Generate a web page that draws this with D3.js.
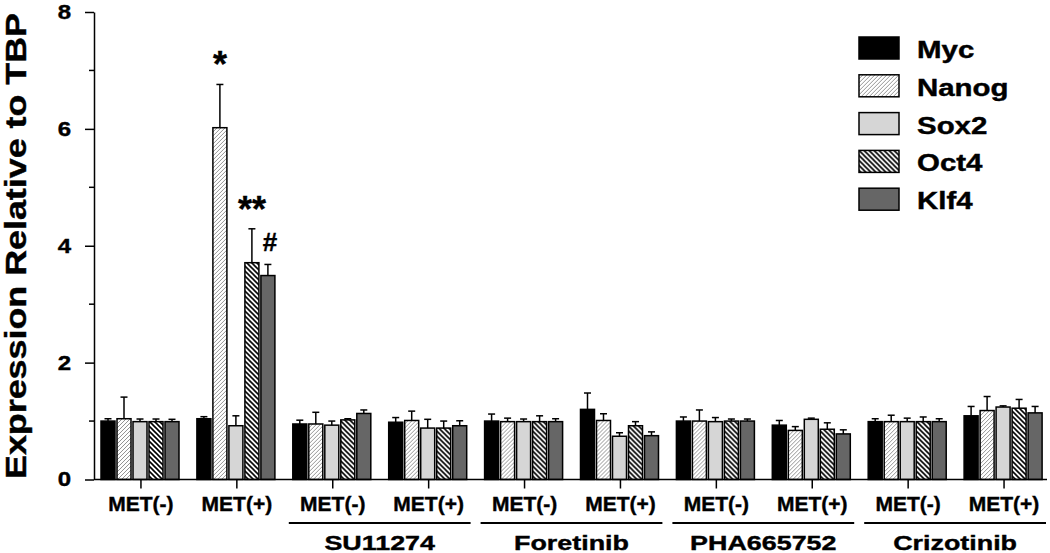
<!DOCTYPE html>
<html>
<head>
<meta charset="utf-8">
<script src="https://cdn.jsdelivr.net/npm/d3@7"></script>
<style>
  body { margin: 0; background: #fff; }
  text { font-family: "Liberation Sans", Arial, sans-serif; font-weight: bold; stroke: #000; stroke-width: 0.4px; }
</style>
</head>
<body>
<div id="chart"></div>
<script>
// values
var categories = ["MET(-)", "MET(+)", "MET(-)", "MET(+)", "MET(-)", "MET(+)", "MET(-)", "MET(+)", "MET(-)", "MET(+)"];
var series = ["Myc", "Nanog", "Sox2", "Oct4", "Klf4"];

var myc   = [1.00, 1.04, 0.95, 0.98, 1.00, 1.20, 1.00, 0.93, 0.99, 1.09];
var nanog = [1.04, 6.02, 0.95, 1.01, 0.99, 1.01, 1.00, 0.84, 0.99, 1.18];
var sox2  = [0.99, 0.92, 0.93, 0.88, 0.99, 0.74, 0.99, 1.03, 0.99, 1.24];
var oct4  = [0.99, 3.71, 1.02, 0.88, 0.99, 0.92, 1.00, 0.86, 0.99, 1.22];
var klf4  = [0.99, 3.49, 1.13, 0.92, 0.99, 0.75, 1.00, 0.78, 0.99, 1.14];

var mycErr   = [0.04, 0.035, 0.065, 0.08, 0.12, 0.28, 0.07, 0.08, 0.05, 0.16];
var nanogErr = [0.37, 0.74, 0.20, 0.16, 0.06, 0.115, 0.19, 0.065, 0.11, 0.24];
var sox2Err  = [0.045, 0.17, 0.07, 0.15, 0.045, 0.06, 0.07, 0.02, 0.06, 0.02];
var oct4Err  = [0.045, 0.58, 0.02, 0.12, 0.10, 0.07, 0.035, 0.11, 0.08, 0.15];
var klf4Err  = [0.04, 0.19, 0.06, 0.085, 0.05, 0.065, 0.035, 0.07, 0.05, 0.11];

var drugs = ["SU11274", "Foretinib", "PHA665752", "Crizotinib"];
var drugFirstGroup = [2, 4, 6, 8];

var marks = [
    { group: 1, series: "Nanog", label: "*" },
    { group: 1, series: "Oct4", label: "**" },
    { group: 1, series: "Klf4", label: "#" }
];

var yTicks = [0, 2, 4, 6, 8];
var yMinor = [1, 3, 5, 7];

var values = { Myc: myc, Nanog: nanog, Sox2: sox2, Oct4: oct4, Klf4: klf4 };
var errors = { Myc: mycErr, Nanog: nanogErr, Sox2: sox2Err, Oct4: oct4Err, Klf4: klf4Err };
var fills = { Myc: "#000", Nanog: "url(#hatchNanog)", Sox2: "#d6d6d6", Oct4: "url(#hatchOct4)", Klf4: "#666" };

var width = 1050, height = 553;

var svg = d3.select("#chart").append("svg")
    .attr("width", width)
    .attr("height", height);

var defs = svg.append("defs");
var pNan = defs.append("pattern")
    .attr("id", "hatchNanog")
    .attr("patternUnits", "userSpaceOnUse")
    .attr("width", 4).attr("height", 4);
pNan.append("rect").attr("width", 4).attr("height", 4).attr("fill", "#fff");
pNan.append("path")
    .attr("d", "M-1,1 l2,-2 M0,4 l4,-4 M3,5 l2,-2")
    .attr("stroke", "#888")
    .attr("stroke-width", 0.9);
var pOct = defs.append("pattern")
    .attr("id", "hatchOct4")
    .attr("patternUnits", "userSpaceOnUse")
    .attr("width", 5).attr("height", 5);
pOct.append("rect").attr("width", 5).attr("height", 5).attr("fill", "#fff");
pOct.append("path")
    .attr("d", "M-1,4 l2,2 M0,0 l5,5 M4,-1 l2,2")
    .attr("stroke", "#000")
    .attr("stroke-width", 1.6);

var axisX = 94, axisRight = 1047;

var x0 = d3.scaleBand()
    .domain(d3.range(categories.length))
    .range([93, 1052]);
var x1 = d3.scaleBand()
    .domain(series)
    .range([8, 86])
    .paddingInner(0.125);
var yScale = d3.scaleLinear()
    .domain([0, 8])
    .range([479.5, 12]);

// bars
var groupG = svg.append("g").selectAll("g")
    .data(d3.range(categories.length))
    .join("g")
    .attr("transform", function (g) { return "translate(" + x0(g) + ",0)"; });

function rows(g) {
    return series.map(function (s) { return { g: g, s: s, v: values[s][g], e: errors[s][g] }; });
}

groupG.selectAll("rect")
    .data(rows)
    .join("rect")
    .attr("x", function (d) { return x1(d.s); })
    .attr("y", function (d) { return yScale(d.v); })
    .attr("width", x1.bandwidth())
    .attr("height", function (d) { return yScale(0) - yScale(d.v); })
    .attr("fill", function (d) { return fills[d.s]; })
    .attr("stroke", "#000")
    .attr("stroke-width", 1.5);

// error bars, upper only
var errG = groupG.selectAll("g.err")
    .data(rows)
    .join("g")
    .attr("class", "err");
errG.append("line")
    .attr("x1", function (d) { return x1(d.s) + x1.bandwidth() / 2; })
    .attr("x2", function (d) { return x1(d.s) + x1.bandwidth() / 2; })
    .attr("y1", function (d) { return yScale(d.v); })
    .attr("y2", function (d) { return yScale(d.v + d.e); })
    .attr("stroke", "#000").attr("stroke-width", 1.5);
errG.append("line")
    .attr("x1", function (d) { return x1(d.s) + x1.bandwidth() / 2 - 3.5; })
    .attr("x2", function (d) { return x1(d.s) + x1.bandwidth() / 2 + 3.5; })
    .attr("y1", function (d) { return yScale(d.v + d.e); })
    .attr("y2", function (d) { return yScale(d.v + d.e); })
    .attr("stroke", "#000").attr("stroke-width", 1.5);

// significance marks
svg.append("g").selectAll("text")
    .data(marks)
    .join("text")
    .attr("x", function (d) { return x0(d.group) + x1(d.series) + x1.bandwidth() / 2 + (d.label === "#" ? 2 : 0); })
    .attr("y", function (d) {
        var top = yScale(values[d.series][d.group] + errors[d.series][d.group]);
        return d.label === "#" ? top - 13 : top - 7;
    })
    .attr("text-anchor", "middle")
    .style("font-size", function (d) { return d.label === "#" ? "26px" : "36px"; })
    .text(function (d) { return d.label; });

// y axis
var yAxis = svg.append("g")
    .attr("transform", "translate(" + axisX + ",0)")
    .call(d3.axisLeft(yScale).tickValues(yTicks).tickSize(9).tickSizeOuter(0).tickFormat(d3.format("d")));
yAxis.select(".domain").attr("stroke-width", 1.5);
yAxis.selectAll(".tick line").attr("stroke-width", 1.5);
yAxis.selectAll(".tick text")
    .attr("x", 0)
    .attr("transform", "translate(-23,0) scale(1.2,1)")
    .style("font-size", "20px")
    .attr("fill", "#000");
svg.append("g")
    .attr("transform", "translate(" + axisX + ",0)")
    .selectAll("line")
    .data(yMinor)
    .join("line")
    .attr("x1", -5).attr("x2", 0)
    .attr("y1", function (d) { return yScale(d); })
    .attr("y2", function (d) { return yScale(d); })
    .attr("stroke", "#000").attr("stroke-width", 1.5);

svg.append("text")
    .attr("transform", "translate(26,246) rotate(-90)")
    .attr("text-anchor", "middle")
    .attr("textLength", 466)
    .attr("lengthAdjust", "spacingAndGlyphs")
    .style("font-size", "29px")
    .text("Expression Relative to TBP");

// x axis
var xAxis = svg.append("g")
    .attr("transform", "translate(0," + yScale(0) + ")")
    .call(d3.axisBottom(x0).tickSize(9).tickFormat(function (i) { return categories[i]; }));
xAxis.select(".domain").remove();
xAxis.selectAll(".tick line").attr("stroke-width", 1.5);
xAxis.selectAll(".tick text")
    .attr("y", 31).attr("dy", 0)
    .style("font-size", "21px")
    .attr("fill", "#000");
svg.append("line")
    .attr("x1", axisX).attr("x2", axisRight)
    .attr("y1", yScale(0)).attr("y2", yScale(0))
    .attr("stroke", "#000").attr("stroke-width", 1.5);

// drug brackets
var drugG = svg.append("g").selectAll("g")
    .data(drugs)
    .join("g");
drugG.append("line")
    .attr("x1", function (d, i) { return x0(drugFirstGroup[i]) + 4; })
    .attr("x2", function (d, i) { return x0(drugFirstGroup[i] + 1) + x0.bandwidth() - 6; })
    .attr("y1", 523).attr("y2", 523)
    .attr("stroke", "#000").attr("stroke-width", 2);
drugG.append("text")
    .attr("transform", function (d, i) {
        var cx = (x0(drugFirstGroup[i]) + x0(drugFirstGroup[i] + 1) + x0.bandwidth()) / 2 - 1;
        return "translate(" + cx + ",550) scale(1.28,1)";
    })
    .attr("text-anchor", "middle")
    .style("font-size", "21px")
    .text(function (d) { return d; });

// legend
var legend = svg.append("g").selectAll("g")
    .data(series)
    .join("g")
    .attr("transform", function (d, i) { return "translate(859," + (37 + i * 37.8) + ")"; });
legend.append("rect")
    .attr("width", 40).attr("height", 22)
    .attr("fill", function (d) { return fills[d]; })
    .attr("stroke", "#000").attr("stroke-width", 1.5);
legend.append("text")
    .attr("transform", "translate(58,21) scale(1.28,1)")
    .style("font-size", "23px")
    .text(function (d) { return d; });
</script>
</body>
</html>
